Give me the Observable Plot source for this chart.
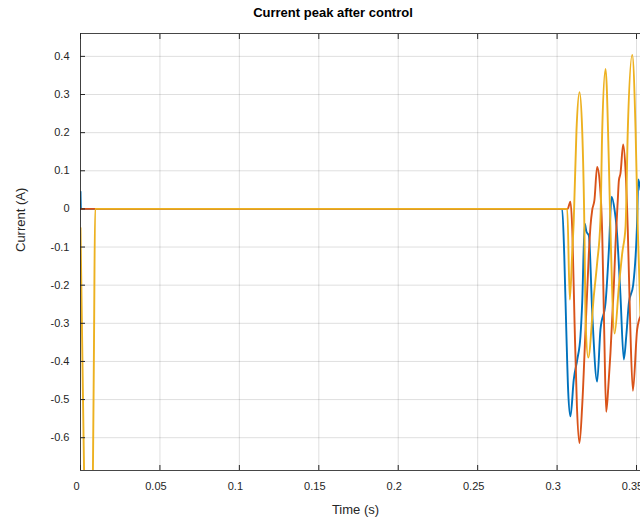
<!DOCTYPE html>
<html>
<head>
<meta charset="utf-8">
<script src="https://cdn.jsdelivr.net/npm/d3@7"></script>
<script src="https://cdn.jsdelivr.net/npm/@observablehq/plot@0.6"></script>
<style>
  html, body { margin: 0; padding: 0; background: #fff; }
  #wrap { position: relative; width: 640px; height: 521px; overflow: hidden; }
  #title { position: absolute; top: 5px; left: 333px; transform: translateX(-50%);
           font: bold 13px "Liberation Sans", Arial, sans-serif; color: #000; white-space: nowrap; }
  #chart { position: absolute; top: 24px; left: 0; }
</style>
</head>
<body>
<div id="wrap">
  <div id="title">Current peak after control</div>
  <div id="chart"></div>
</div>
<script>
const titleText = "Current peak after control";
const xLabel = "Time (s)";
const yLabel = "Current (A)";
const xTicks = [0, 0.05, 0.1, 0.15, 0.2, 0.25, 0.3, 0.35];
const yTicks = [-0.6, -0.5, -0.4, -0.3, -0.2, -0.1, 0, 0.1, 0.2, 0.3, 0.4];
const xDomain = [0, 0.3525];
const yDomain = [-0.686, 0.46];

const blueT = [0, 0.0003, 0.3032, 0.3045, 0.3058, 0.3070, 0.3084, 0.3105, 0.3127, 0.3147, 0.3158, 0.3174, 0.3185, 0.3200, 0.3222, 0.3252, 0.3273, 0.3305, 0.3326, 0.3343, 0.3362, 0.3374, 0.3398, 0.3420, 0.3436, 0.3452, 0.3479, 0.3504, 0.3511, 0.3525];
const blueV = [0.045, 0, 0, -0.12, -0.32, -0.48, -0.544, -0.447, -0.395, -0.334, -0.246, -0.039, -0.06, -0.07, -0.28, -0.453, -0.316, -0.246, -0.107, 0.032, -0.003, -0.046, -0.22, -0.395, -0.33, -0.246, -0.199, -0.029, 0.077, 0.05];

const redT = [0, 0.3066, 0.3084, 0.3096, 0.3110, 0.3125, 0.3141, 0.3158, 0.3179, 0.3200, 0.3210, 0.3221, 0.3235, 0.3252, 0.3269, 0.3284, 0.3297, 0.3309, 0.3322, 0.3336, 0.3357, 0.3368, 0.3382, 0.3389, 0.3399, 0.3416, 0.3431, 0.3445, 0.3460, 0.3477, 0.3504, 0.3525];
const redV = [0, 0, 0.019, -0.06, -0.3, -0.52, -0.614, -0.516, -0.316, -0.116, -0.046, -0.003, 0.023, 0.11, 0.067, -0.064, -0.33, -0.532, -0.47, -0.377, -0.203, -0.09, 0.023, 0.075, 0.093, 0.169, 0.1, -0.055, -0.3, -0.477, -0.316, -0.281];

const yelT = [0, 0.002, 0.0035, 0.005, 0.0065, 0.0078, 0.0085, 0.0092, 0.3064, 0.3080, 0.3095, 0.3105, 0.3122, 0.3141, 0.3158, 0.3172, 0.3179, 0.3196, 0.3231, 0.3252, 0.3273, 0.3284, 0.3305, 0.3326, 0.3336, 0.3362, 0.3389, 0.3410, 0.3431, 0.3445, 0.3473, 0.3494, 0.3508, 0.3525];
const yelV = [-0.05, -0.62, -1.0, -1.2, -1.1, -0.7, -0.35, 0, 0, -0.238, -0.116, -0.029, 0.206, 0.306, 0.206, -0.055, -0.29, -0.39, -0.229, -0.142, -0.029, 0.206, 0.367, 0.119, -0.055, -0.327, -0.203, -0.116, -0.046, 0.206, 0.404, 0.206, -0.055, -0.281];

const seriesNames = ["A", "B", "C"];
const seriesColors = ["#0072BD", "#D95319", "#EDB120"];

function rows(ts, vs, s) { return ts.map((t, i) => ({t, v: vs[i], s})); }
const blue = rows(blueT, blueV, seriesNames[0]);
const red = rows(redT, redV, seriesNames[1]);
const yel = rows(yelT, yelV, seriesNames[2]);

const fmt = d => d === 0 ? "0" : String(d).replace("\u2212", "-");
const axisColor = "#262626";
const font = '"Liberation Sans", Arial, sans-serif';
const H = 497;

const lineOpts = (c) => ({x: "t", y: "v", stroke: c, strokeWidth: 1.9, curve: "monotone-x", clip: true});

const chart = Plot.plot({
  width: 640,
  height: H,
  marginLeft: 80,
  marginRight: 0,
  marginTop: 9,
  marginBottom: 51,
  style: {fontFamily: font, fontSize: "11px", color: axisColor, background: "#fff", overflow: "visible"},
  x: {domain: xDomain, ticks: xTicks},
  y: {domain: yDomain, ticks: yTicks},
  marks: [
    Plot.gridX(xTicks, {stroke: axisColor, strokeOpacity: 0.15}),
    Plot.gridY(yTicks, {stroke: axisColor, strokeOpacity: 0.15}),
    Plot.line(blue, lineOpts(seriesColors[0])),
    Plot.line(red, lineOpts(seriesColors[1])),
    Plot.line(yel, lineOpts(seriesColors[2])),
    Plot.ruleX([xDomain[0]], {stroke: axisColor, strokeOpacity: 0.85}),
    Plot.ruleY(yDomain, {stroke: axisColor, strokeOpacity: 0.85}),
    Plot.axisX(xTicks, {anchor: "bottom", tickSize: 0, tickPadding: 12, dx: -4, tickFormat: fmt, label: null, fontSize: 11}),
    Plot.axisX(xTicks, {anchor: "bottom", tickSize: 5, dy: -5, text: null, label: null, stroke: axisColor}),
    Plot.axisX(xTicks, {anchor: "top", tickSize: 5, dy: 5, text: null, label: null, stroke: axisColor}),
    Plot.axisY(yTicks, {anchor: "left", tickSize: 0, tickPadding: 11, tickFormat: fmt, label: null, fontSize: 11}),
    Plot.axisY(yTicks, {anchor: "left", tickSize: 5, dx: 5, text: null, label: null, stroke: axisColor}),
    Plot.text([xLabel], {frameAnchor: "bottom", dy: 43, dx: -5, fontSize: 13, fill: axisColor}),
    Plot.text([yLabel], {frameAnchor: "left", dx: -60, rotate: -90, fontSize: 13, fill: axisColor})
  ]
});
document.getElementById("chart").appendChild(chart);
</script>
</body>
</html>
